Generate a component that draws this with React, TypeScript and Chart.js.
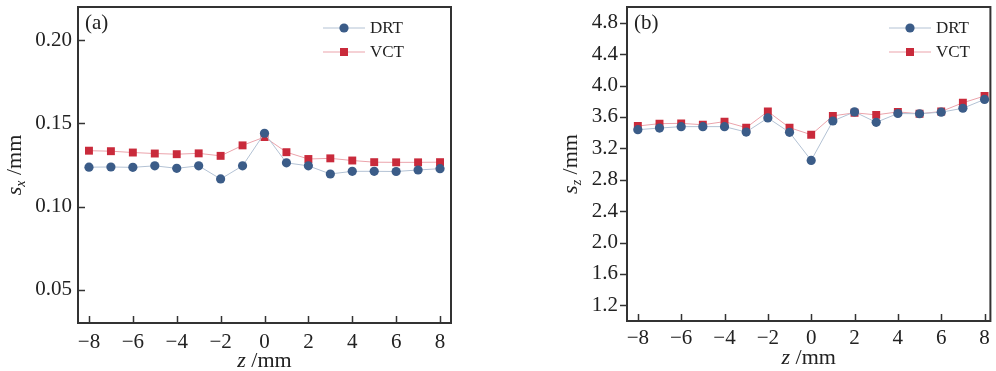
import React, { useEffect, useRef } from "react";
import { Chart, registerables } from "chart.js";
Chart.register(...registerables);

const zValues = [-8, -7, -6, -5, -4, -3, -2, -1, 0, 1, 2, 3, 4, 5, 6, 7, 8];
const drtSx = [0.1237, 0.1238, 0.1236, 0.1245, 0.1230, 0.1245, 0.1166, 0.1245, 0.1441, 0.1263, 0.1245, 0.1196, 0.1212, 0.1212, 0.1211, 0.1220, 0.1228];
const vctSx = [0.1336, 0.1333, 0.1325, 0.1319, 0.1315, 0.1320, 0.1305, 0.1368, 0.1418, 0.1327, 0.1286, 0.1290, 0.1277, 0.1267, 0.1266, 0.1266, 0.1267];
const drtSz = [3.437, 3.458, 3.476, 3.476, 3.476, 3.407, 3.587, 3.403, 3.046, 3.548, 3.664, 3.531, 3.643, 3.640, 3.660, 3.710, 3.823];
const vctSz = [3.484, 3.514, 3.518, 3.500, 3.540, 3.463, 3.669, 3.463, 3.373, 3.613, 3.652, 3.626, 3.664, 3.640, 3.669, 3.780, 3.866];
const xTickValues = [-8, -6, -4, -2, 0, 2, 4, 6, 8];
const sxTickValues = [0.05, 0.1, 0.15, 0.2];
const szTickValues = [1.2, 1.6, 2.0, 2.4, 2.8, 3.2, 3.6, 4.0, 4.4, 4.8];
const seriesNames = ["DRT", "VCT"];
const panelLabels = ["(a)", "(b)"];
const ySubscripts = ["x", "z"];

const FONT = '"Liberation Serif", "DejaVu Serif", serif';
const TEXT = "#222";
const AXIS = "#333";
const DRT_MARK = "#3b5c88";
const DRT_LINE = "#b3c2d4";
const VCT_MARK = "#c92a3b";
const VCT_LINE = "#eba3ab";

type Panel = {
  label: string;
  sub: string;
  drt: number[];
  vct: number[];
  yMin: number;
  yMax: number;
  xMax: number;
  yTicks: number[];
  decimals: number;
  width: number;
  yAxisWidth: number;
  xAxisHeight: number;
  padTop: number;
  padRight: number;
  yTickOut: boolean;
  yTickPad: number;
  xTickPad: number;
  legendX: number;
  yTitleX: number;
  xTitleY: number;
};

const panels: Panel[] = [
  {
    label: panelLabels[0], sub: ySubscripts[0], drt: drtSx, vct: vctSx,
    yMin: 0.03, yMax: 0.22, xMax: 8.5, yTicks: sxTickValues, decimals: 2,
    width: 500, yAxisWidth: 78, xAxisHeight: 48, padTop: 7, padRight: 49,
    yTickOut: false, yTickPad: 6, xTickPad: 7, legendX: 245, yTitleX: -57, xTitleY: 44,
  },
  {
    label: panelLabels[1], sub: ySubscripts[1], drt: drtSz, vct: vctSz,
    yMin: 1.0, yMax: 5.0, xMax: 8.27, yTicks: szTickValues, decimals: 1,
    width: 496, yAxisWidth: 127, xAxisHeight: 50, padTop: 7, padRight: 1,
    yTickOut: true, yTickPad: 9, xTickPad: 5, legendX: 262, yTitleX: -50, xTitleY: 43,
  },
];

function makePlugin(p: Panel) {
  return {
    id: "decor",
    afterDraw(chart: any) {
      const ctx = chart.ctx as CanvasRenderingContext2D;
      const a = chart.chartArea;
      const xs = chart.scales.x;
      const ys = chart.scales.y;
      ctx.save();
      // ticks
      ctx.strokeStyle = AXIS;
      ctx.lineWidth = 1.5;
      const tl = 7;
      for (const v of xTickValues) {
        const px = Math.round(xs.getPixelForValue(v)) + 0.5;
        ctx.beginPath();
        ctx.moveTo(px, a.bottom);
        ctx.lineTo(px, a.bottom - tl);
        ctx.stroke();
      }
      for (const v of p.yTicks) {
        const py = Math.round(ys.getPixelForValue(v)) + 0.5;
        ctx.beginPath();
        ctx.moveTo(a.left, py);
        ctx.lineTo(p.yTickOut ? a.left - tl : a.left + tl, py);
        ctx.stroke();
      }
      // frame
      ctx.lineWidth = 2;
      ctx.strokeRect(a.left, a.top, a.right - a.left, a.bottom - a.top);

      // panel label
      ctx.fillStyle = TEXT;
      ctx.font = `21px ${FONT}`;
      ctx.textAlign = "left";
      ctx.textBaseline = "alphabetic";
      ctx.fillText(p.label, a.left + 7, a.top + 22);

      // legend
      const ds = chart.data.datasets;
      const rows = [a.top + 21, a.top + 45];
      ds.forEach((d: any, i: number) => {
        const y = rows[i];
        const lx = a.left + p.legendX;
        ctx.strokeStyle = d.borderColor;
        ctx.lineWidth = 1;
        ctx.beginPath();
        ctx.moveTo(lx, y);
        ctx.lineTo(lx + 42, y);
        ctx.stroke();
        ctx.fillStyle = d.pointBackgroundColor;
        if (d.pointStyle === "rect") {
          ctx.fillRect(lx + 21 - 4, y - 4, 8, 8);
        } else {
          ctx.beginPath();
          ctx.arc(lx + 21, y, 4.6, 0, Math.PI * 2);
          ctx.fill();
        }
        ctx.fillStyle = TEXT;
        ctx.font = `17px ${FONT}`;
        ctx.textBaseline = "middle";
        ctx.fillText(d.label, lx + 47, y + 1);
      });

      // x title
      ctx.textBaseline = "alphabetic";
      const cx = (a.left + a.right) / 2;
      ctx.font = `italic 22px ${FONT}`;
      const wz = ctx.measureText("z").width;
      ctx.font = `22px ${FONT}`;
      const wr = ctx.measureText(" /mm").width;
      const sx = cx - (wz + wr) / 2;
      ctx.font = `italic 22px ${FONT}`;
      ctx.fillText("z", sx, a.bottom + p.xTitleY);
      ctx.font = `22px ${FONT}`;
      ctx.fillText(" /mm", sx + wz, a.bottom + p.xTitleY);

      // y title
      ctx.translate(a.left + p.yTitleX, (a.top + a.bottom) / 2);
      ctx.rotate(-Math.PI / 2);
      ctx.font = `italic 22px ${FONT}`;
      const ws = ctx.measureText("s").width;
      ctx.font = `italic 14px ${FONT}`;
      const wsub = ctx.measureText(p.sub).width;
      ctx.font = `22px ${FONT}`;
      const wm = ctx.measureText(" /mm").width;
      let tx = -(ws + wsub + wm) / 2;
      ctx.font = `italic 22px ${FONT}`;
      ctx.fillText("s", tx, 0);
      tx += ws;
      ctx.font = `italic 14px ${FONT}`;
      ctx.fillText(p.sub, tx, 4);
      tx += wsub;
      ctx.font = `22px ${FONT}`;
      ctx.fillText(" /mm", tx, 0);
      ctx.restore();
    },
  };
}

function PanelChart({ p, left }: { p: Panel; left: number }) {
  const ref = useRef<HTMLCanvasElement | null>(null);
  useEffect(() => {
    if (!ref.current) return;
    const toPts = (arr: number[]) => zValues.map((z, i) => ({ x: z, y: arr[i] }));
    const chart = new Chart(ref.current, {
      type: "line",
      data: {
        datasets: [
          {
            label: seriesNames[0],
            data: toPts(p.drt),
            borderColor: DRT_LINE,
            borderWidth: 1,
            pointStyle: "circle",
            pointRadius: 4.6,
            pointBackgroundColor: DRT_MARK,
            pointBorderWidth: 0,
            pointBorderColor: DRT_MARK,
          },
          {
            label: seriesNames[1],
            data: toPts(p.vct),
            borderColor: VCT_LINE,
            borderWidth: 1,
            pointStyle: "rect",
            pointRadius: 5.6,
            pointBackgroundColor: VCT_MARK,
            pointBorderWidth: 0,
            pointBorderColor: VCT_MARK,
          },
        ] as any,
      },
      options: {
        responsive: false,
        animation: false,
        events: [],
        layout: { padding: { top: p.padTop, right: p.padRight, left: 0, bottom: 0 } },
        plugins: { legend: { display: false }, tooltip: { enabled: false } },
        scales: {
          x: {
            type: "linear",
            min: -8.5,
            max: p.xMax,
            grid: { display: false, drawTicks: false },
            border: { display: false },
            afterBuildTicks: (s: any) => { s.ticks = xTickValues.map((v) => ({ value: v })); },
            afterFit: (s: any) => { s.height = p.xAxisHeight; s.paddingLeft = 0; s.paddingRight = 0; },
            ticks: {
              autoSkip: false,
              maxRotation: 0,
              padding: p.xTickPad,
              color: TEXT,
              font: { family: FONT, size: 21 },
              callback: (v: any) => (Number(v) < 0 ? "\u2212" + Math.abs(Number(v)) : String(v)),
            },
          },
          y: {
            type: "linear",
            min: p.yMin,
            max: p.yMax,
            grid: { display: false, drawTicks: false },
            border: { display: false },
            afterBuildTicks: (s: any) => { s.ticks = p.yTicks.map((v) => ({ value: v })); },
            afterFit: (s: any) => { s.width = p.yAxisWidth; s.paddingTop = 0; s.paddingBottom = 0; },
            ticks: {
              autoSkip: false,
              padding: p.yTickPad,
              color: TEXT,
              font: { family: FONT, size: 21 },
              callback: (v: any) => Number(v).toFixed(p.decimals),
            },
          },
        },
      } as any,
      plugins: [makePlugin(p)],
    });
    return () => chart.destroy();
  }, [p]);
  return (
    <canvas
      ref={ref}
      width={p.width}
      height={371}
      style={{ position: "absolute", left, top: 0, width: p.width, height: 371, display: "block" }}
    />
  );
}

export default function App() {
  return (
    <div style={{ position: "absolute", left: 0, top: 0, width: 996, height: 371, background: "#fff", overflow: "hidden" }}>
      <PanelChart p={panels[0]} left={0} />
      <PanelChart p={panels[1]} left={500} />
    </div>
  );
}
